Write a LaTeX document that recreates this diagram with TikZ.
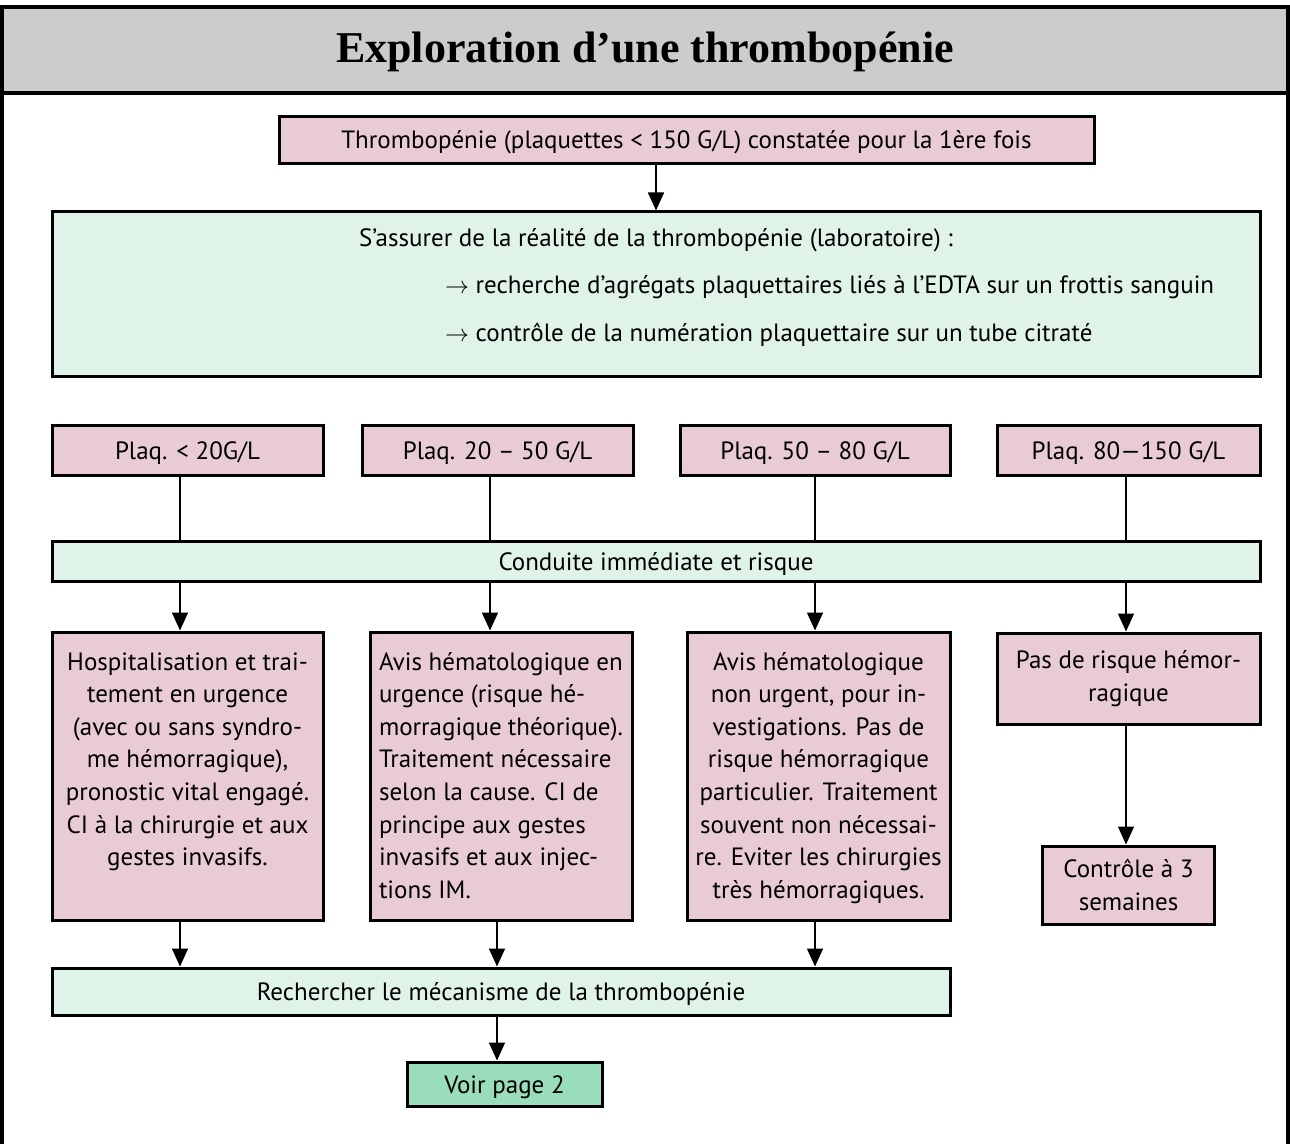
\documentclass[tikz,border=0pt]{standalone}
\usepackage{fontspec}
\setmainfont{PT Sans}
\newfontfamily\titlefont{Liberation Serif}
\usepackage{tikz}
\usetikzlibrary{positioning}
\usetikzlibrary{arrows.meta}
\definecolor{pinkfill}{RGB}{233,203,214}
\definecolor{greenfill}{RGB}{223,243,232}
\definecolor{greendark}{RGB}{153,221,187}
\definecolor{titlegray}{RGB}{204,204,204}

% tall boxes: text hangs from the top
\newcommand{\tallcell}[2]{\parbox[c][144pt][t]{#1}{#2}}

\begin{document}
\begin{tikzpicture}[
            x = 0.5pt, y = -0.5pt, % one unit = one pixel
            > = {Triangle[width=8pt,length=9pt]}, % arrow head style
            line width = 0.8pt,
            font = \fontsize{12.5}{16.3}\selectfont
        ]

        \tikzstyle{pinkbox}=[
            draw,
            line width = 1.5pt,
            fill = pinkfill,
            inner sep = 0pt,
            align = center
        ]
        \tikzstyle{greenbox}=[pinkbox, fill = greenfill]
        \tikzstyle{oneline}=[text height = 11pt, text depth = 2pt]

        \useasboundingbox (0,0) rectangle (1290,1144);

        % frame and title
        \fill[titlegray] (2,7) rectangle (1288,93);
        \draw[line width=2pt] (2,1144) -- (2,7) -- (1288,7) -- (1288,1144);
        \draw[line width=2pt] (2,93) -- (1288,93);
        \node (title) at (645,52) {\titlefont\bfseries\fontsize{22}{26}\selectfont Exploration d’une thrombopénie};

        % columns
        \coordinate (k1) at (180,0);
        \coordinate (k2) at (490,0);
        \coordinate (k3) at (815,0);
        \coordinate (k4) at (1126,0);
        \coordinate (m2) at (497,0);

        % first finding
        \node[pinkbox, oneline, minimum width=407.5pt, minimum height=23.5pt] (start) at (686.5,140) {Thrombopénie (plaquettes < 150 G/L) constatée pour la 1ère fois};
        \node[greenbox, minimum width=604pt, minimum height=82.5pt] (check) at (656,294.5) {\parbox[c][82.5pt][t]{604pt}{\fontsize{12.5}{23.7}\selectfont
            \centering\rule{0pt}{17.2pt}S’assurer de la réalité de la thrombopénie (laboratoire) :\par
            \raggedright\hspace*{196.5pt}$\rightarrow$ recherche d’agrégats plaquettaires liés à l’EDTA sur un frottis sanguin\\
            \hspace*{196.5pt}$\rightarrow$ contrôle de la numération plaquettaire sur un tube citraté\par}};

        \path[->] (start.south -| check.north) edge (check.north);

        % platelet counts
        \node[pinkbox, oneline, minimum width=135.5pt, minimum height=24.5pt] (P1) at (187.5,450.5) {Plaq. < 20G/L};
        \node[pinkbox, oneline, minimum width=135.5pt, minimum height=24.5pt] (P2) at (497.5,450.5) {Plaq. 20 – 50 G/L};
        \node[pinkbox, oneline, minimum width=135pt, minimum height=24.5pt] (P3) at (815,450.5) {Plaq. 50 – 80 G/L};
        \node[pinkbox, oneline, minimum width=131.5pt, minimum height=24.5pt] (P4) at (1128.5,450.5) {Plaq. 80—150 G/L};

        \node[greenbox, oneline, minimum width=604pt, minimum height=20pt] (cond) at (656,561) {Conduite immédiate et risque};

        \path (P1.south -| k1) edge (cond.north -| k1);
        \path (P2.south -| k2) edge (cond.north -| k2);
        \path (P3.south -| k3) edge (cond.north -| k3);
        \path (P4.south -| k4) edge (cond.north -| k4);

        % what to do
        \node[pinkbox, minimum width=135.5pt, minimum height=144pt] (B1) at (187.5,776) {\tallcell{128pt}{\centering\rule{0pt}{19pt}Hospitalisation et trai-\\tement en urgence\\(avec ou sans syndro-\\me hémorragique),\\pronostic vital engagé.\\CI à la chirurgie et aux\\gestes invasifs.}};
        \node[pinkbox, minimum width=131pt, minimum height=144pt] (B2) at (501,776) {\tallcell{122pt}{\raggedright\rule{0pt}{19pt}Avis hématologique en\\urgence (risque hé-\\morragique théorique).\\Traitement nécessaire\\selon la cause. CI de\\principe aux gestes\\invasifs et aux injec-\\tions IM.}};
        \node[pinkbox, minimum width=131.5pt, minimum height=144pt] (B3) at (818.5,776) {\tallcell{126pt}{\centering\rule{0pt}{19pt}Avis hématologique\\non urgent, pour in-\\vestigations. Pas de\\risque hémorragique\\particulier. Traitement\\souvent non nécessai-\\re. Eviter les chirurgies\\très hémorragiques.}};
        \node[pinkbox, minimum width=131.5pt, minimum height=45.5pt] (B4) at (1128.5,678.5) {Pas de risque hémor-\\ragique};
        \node[pinkbox, minimum width=86pt, minimum height=39pt, below=59.5pt of B4] (B5) {Contrôle à 3\\semaines};

        \path[->] (cond.south -| k1) edge (B1.north -| k1);
        \path[->] (cond.south -| k2) edge (B2.north -| k2);
        \path[->] (cond.south -| k3) edge (B3.north -| k3);
        \path[->] (cond.south -| k4) edge (B4.north -| k4);
        \path[->] (B4.south -| k4) edge (B5.north -| k4);

        % mechanism
        \node[greenbox, oneline, minimum width=449pt, minimum height=23.5pt] (mech) at (501,991.5) {Rechercher le mécanisme de la thrombopénie};
        \node[pinkbox, oneline, fill=greendark, minimum width=97.5pt, minimum height=22pt] (page) at (504.5,1084) {Voir page 2};

        \path[->] (B1.south -| k1) edge (mech.north -| k1);
        \path[->] (B2.south -| m2) edge (mech.north -| m2);
        \path[->] (B3.south -| k3) edge (mech.north -| k3);
        \path[->] (mech.south -| m2) edge (page.north -| m2);

  \end{tikzpicture}
\end{document}
